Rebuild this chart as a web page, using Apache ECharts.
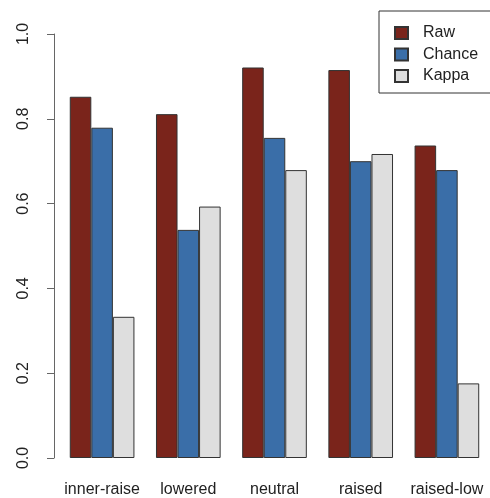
<!DOCTYPE html>
<html>
<head>
<meta charset="utf-8">
<script src="https://cdn.jsdelivr.net/npm/echarts@6/dist/echarts.min.js"></script>
<style>
html,body{margin:0;padding:0;background:#fff;}
#chart{width:490px;height:498px;}
</style>
</head>
<body>
<div id="chart"></div>
<script>
var categories = ['inner-raise', 'lowered', 'neutral', 'raised', 'raised-low'];
var rawValues = [0.852, 0.811, 0.921, 0.915, 0.737];
var chanceValues = [0.779, 0.538, 0.755, 0.700, 0.679];
var kappaValues = [0.333, 0.593, 0.679, 0.717, 0.176];
var yTicks = [0, 0.2, 0.4, 0.6, 0.8, 1.0];

var font = 'Liberation Sans, Arial, Helvetica, sans-serif';
var chart = echarts.init(document.getElementById('chart'), null, {renderer: 'canvas'});
function barSeries(name, data, color) {
  return {
    name: name,
    type: 'bar',
    data: data,
    barGap: '0%',
    barCategoryGap: '25%',
    itemStyle: {color: color, borderColor: '#333', borderWidth: 1},
    emphasis: {disabled: true}
  };
}
chart.setOption({
  animation: false,
  backgroundColor: '#ffffff',
  grid: {left: 59, top: 34, width: 437, height: 424, containLabel: false},
  legend: {
    orient: 'vertical',
    left: 379,
    top: 11,
    padding: [14, 20, 9, 15],
    borderColor: '#333',
    borderWidth: 1,
    itemWidth: 13,
    itemHeight: 12,
    itemGap: 5.5,
    icon: 'rect',
    textStyle: {fontFamily: font, fontSize: 16, color: '#222', lineHeight: 16, padding: [0, 0, 0, 10]},
    data: ['Raw', 'Chance', 'Kappa']
  },
  xAxis: {
    type: 'category',
    data: categories,
    axisLine: {show: false},
    axisTick: {show: false},
    axisLabel: {fontFamily: font, fontSize: 16, color: '#222', margin: 24, interval: 0}
  },
  yAxis: {
    type: 'value',
    min: 0,
    max: 1,
    interval: 0.2,
    offset: 5,
    splitLine: {show: false},
    axisLine: {show: true, lineStyle: {color: '#666', width: 1}},
    axisTick: {show: true, length: 7, lineStyle: {color: '#666', width: 1}},
    axisLabel: {
      fontFamily: font, fontSize: 16, color: '#222', rotate: 90, margin: 22,
      formatter: function (v) { return v.toFixed(1); }
    }
  },
  series: [
    barSeries('Raw', rawValues, '#7a241b'),
    barSeries('Chance', chanceValues, '#3a6ea8'),
    barSeries('Kappa', kappaValues, '#dedede')
  ]
});
</script>
</body>
</html>
